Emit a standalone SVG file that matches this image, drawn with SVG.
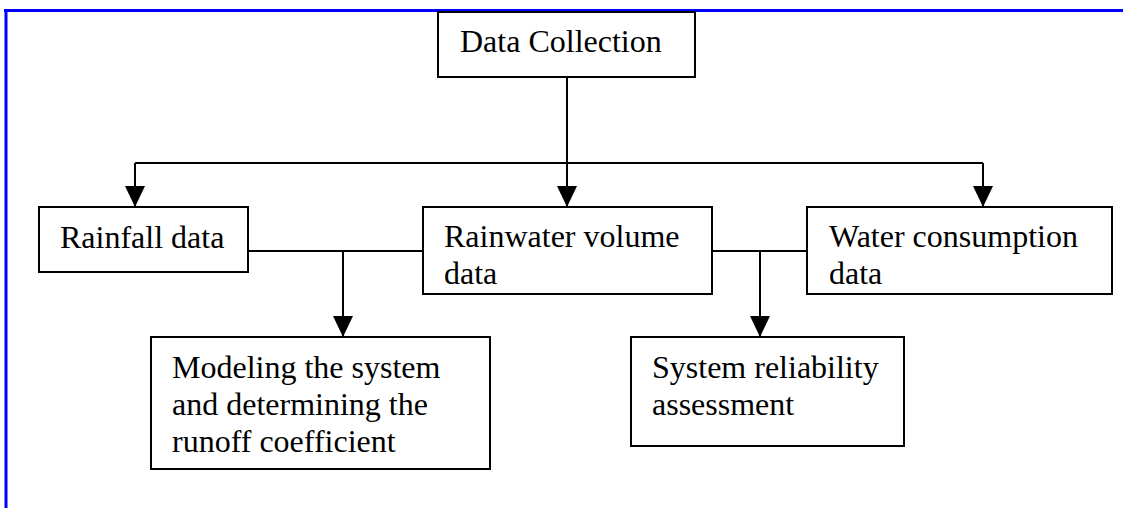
<svg xmlns="http://www.w3.org/2000/svg" width="1123" height="508" viewBox="0 0 1123 508">
  <style>
    .box { fill: #ffffff; stroke: #000000; stroke-width: 2; }
    .lbl { font-family: "Liberation Serif", "Times New Roman", serif; font-size: 32px; fill: #000000; }
    .wire { fill: none; stroke: #000000; stroke-width: 2; }
    .frame { fill: #0000ff; }
  </style>
  <defs>
    <!-- filled triangular head, tip placed at the end of the path -->
    <marker id="arrow" markerUnits="userSpaceOnUse" markerWidth="21" markerHeight="21" viewBox="0 0 21 20" refX="21" refY="10" orient="auto">
      <path d="M0,0 L21,10 L0,20 Z" fill="#000000"/>
    </marker>
  </defs>

  <rect width="1123" height="508" fill="#ffffff"/>

  <!-- page frame: top and left rule -->
  <g id="frame">
    <rect class="frame" x="4" y="9" width="1119" height="3"/>
    <rect class="frame" x="4.5" y="9" width="3" height="499"/>
  </g>

  <!-- connectors -->
  <g id="connectors">
    <path class="wire" d="M567,77 V163"/>
    <path class="wire" d="M135,163 H983"/>
    <path class="wire" d="M135,163 V207" marker-end="url(#arrow)"/>
    <path class="wire" d="M567,163 V207" marker-end="url(#arrow)"/>
    <path class="wire" d="M983,163 V207" marker-end="url(#arrow)"/>
    <path class="wire" d="M248,251 H423"/>
    <path class="wire" d="M343,251 V337" marker-end="url(#arrow)"/>
    <path class="wire" d="M712,251 H807"/>
    <path class="wire" d="M760,251 V337" marker-end="url(#arrow)"/>
  </g>

  <g id="data-collection">
    <rect class="box" x="438" y="12" width="257" height="65"/>
    <text class="lbl" x="460" y="52">Data Collection</text>
  </g>

  <g id="rainfall-data">
    <rect class="box" x="39" y="207" width="209" height="65"/>
    <text class="lbl" x="60" y="248">Rainfall data</text>
  </g>

  <g id="rainwater-volume-data">
    <rect class="box" x="423" y="207" width="289" height="87"/>
    <text class="lbl" x="444" y="247">Rainwater volume</text>
    <text class="lbl" x="444" y="284">data</text>
  </g>

  <g id="water-consumption-data">
    <rect class="box" x="807" y="207" width="305" height="87"/>
    <text class="lbl" x="829" y="247">Water consumption</text>
    <text class="lbl" x="829" y="284">data</text>
  </g>

  <g id="modeling">
    <rect class="box" x="151" y="337" width="339" height="132"/>
    <text class="lbl" x="172" y="378">Modeling the system</text>
    <text class="lbl" x="172" y="415">and determining the</text>
    <text class="lbl" x="172" y="452">runoff coefficient</text>
  </g>

  <g id="system-reliability">
    <rect class="box" x="631" y="337" width="273" height="109"/>
    <text class="lbl" x="652" y="378">System reliability</text>
    <text class="lbl" x="652" y="415">assessment</text>
  </g>
</svg>
